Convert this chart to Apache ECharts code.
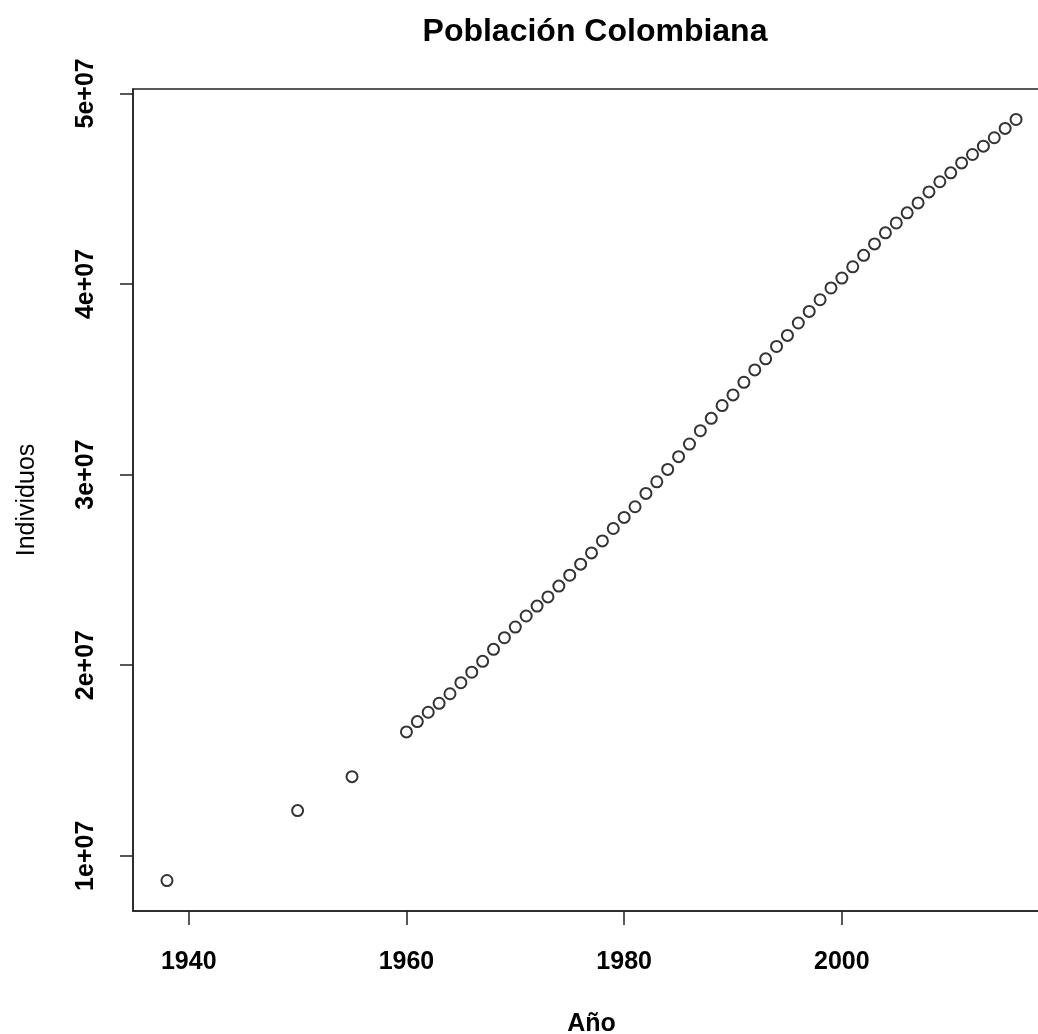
<!DOCTYPE html>
<html>
<head>
<meta charset="utf-8">
<script src="https://cdn.jsdelivr.net/npm/echarts@6/dist/echarts.min.js"></script>
<style>
  html, body { margin: 0; padding: 0; background: #fff; overflow: hidden; }
  /* the plot frame runs past the right edge of the window */
  #chart { width: 1070px; height: 1034px; }
</style>
</head>
<body>
<div id="chart"></div>
<script>
// Colombian population by year
const years = [1938, 1950, 1955,
  1960, 1961, 1962, 1963, 1964, 1965, 1966, 1967, 1968, 1969,
  1970, 1971, 1972, 1973, 1974, 1975, 1976, 1977, 1978, 1979,
  1980, 1981, 1982, 1983, 1984, 1985, 1986, 1987, 1988, 1989,
  1990, 1991, 1992, 1993, 1994, 1995, 1996, 1997, 1998, 1999,
  2000, 2001, 2002, 2003, 2004, 2005, 2006, 2007, 2008, 2009,
  2010, 2011, 2012, 2013, 2014, 2015, 2016];
const population = [8700000, 12370000, 14150000,
  16500000, 17040000, 17530000, 18000000, 18500000, 19080000, 19630000, 20200000, 20830000, 21440000,
  22000000, 22580000, 23100000, 23580000, 24150000, 24720000, 25300000, 25890000, 26520000, 27170000,
  27750000, 28310000, 29010000, 29620000, 30270000, 30940000, 31600000, 32300000, 32950000, 33620000,
  34180000, 34840000, 35490000, 36070000, 36720000, 37300000, 37950000, 38560000, 39170000, 39790000,
  40310000, 40900000, 41500000, 42100000, 42680000, 43200000, 43730000, 44250000, 44830000, 45360000,
  45830000, 46350000, 46790000, 47230000, 47670000, 48160000, 48630000];
const xTicks = [1940, 1960, 1980, 2000];
const yTicks = [10000000, 20000000, 30000000, 40000000, 50000000];

// axis limits padded by 4% of the data range on each side
function padded(values) {
  const lo = Math.min(...values), hi = Math.max(...values);
  const d = (hi - lo) * 0.04;
  return [lo - d, hi + d];
}
const [xMin, xMax] = padded(years);
const [yMin, yMax] = padded(population);

const points = years.map((y, i) => [y, population[i]]);

const chart = echarts.init(document.getElementById('chart'), null, { renderer: 'canvas' });
const boldFont = { fontFamily: 'Liberation Sans, Arial, sans-serif', fontWeight: 'bold', color: '#000' };

chart.setOption({
  animation: false,
  backgroundColor: '#fff',
  title: {
    text: 'Población Colombiana',
    left: 590, top: 11,
    textAlign: 'center',
    textStyle: Object.assign({ fontSize: 32 }, boldFont)
  },
  grid: {
    left: 133, top: 89, width: 917, height: 822,
    outerBoundsMode: 'none', containLabel: false,
    show: true, borderColor: '#222', borderWidth: 1.5, backgroundColor: 'transparent'
  },
  xAxis: {
    type: 'value', min: xMin, max: xMax,
    name: 'Año', nameLocation: 'middle', nameGap: 101,
    nameTextStyle: Object.assign({ fontSize: 25 }, boldFont),
    splitLine: { show: false },
    axisLine: { show: true, onZero: false, lineStyle: { color: '#222', width: 1.5 } },
    axisTick: { show: true, length: 14, lineStyle: { color: '#222', width: 1.5 }, customValues: xTicks },
    axisLabel: Object.assign({
      fontSize: 25, margin: 39, customValues: xTicks,
      formatter: v => String(v)
    }, boldFont)
  },
  yAxis: {
    type: 'value', min: yMin, max: yMax,
    name: 'Individuos', nameLocation: 'middle', nameGap: 93, nameRotate: 90,
    nameTextStyle: { fontSize: 25, fontFamily: 'Liberation Sans, Arial, sans-serif', color: '#000' },
    splitLine: { show: false },
    axisLine: { show: true, onZero: false, lineStyle: { color: '#222', width: 1.5 } },
    axisTick: { show: true, length: 13, lineStyle: { color: '#222', width: 1.5 }, customValues: yTicks },
    axisLabel: Object.assign({
      fontSize: 25, margin: 34, rotate: 90, customValues: yTicks,
      formatter: v => Math.round(v / 1e7) + 'e+07'
    }, boldFont)
  },
  series: [{
    type: 'scatter',
    data: points,
    symbol: 'emptyCircle',
    symbolSize: 11,
    silent: true,
    itemStyle: { color: '#000', borderColor: '#000', borderWidth: 1.4 }
  }]
});
</script>
</body>
</html>
